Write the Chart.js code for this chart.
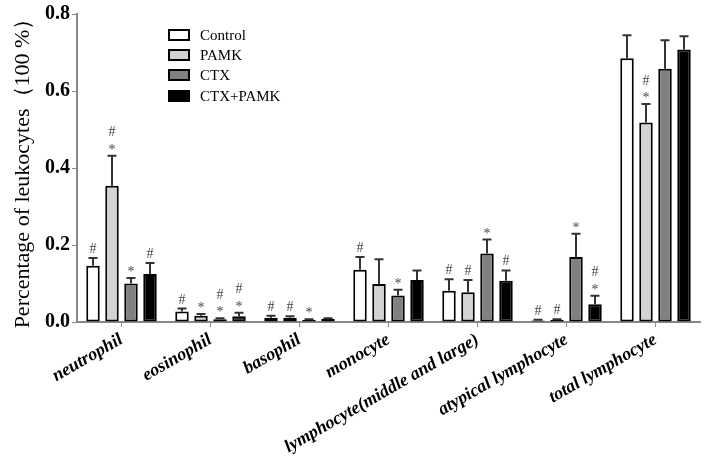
<!DOCTYPE html>
<html>
<head>
<meta charset="utf-8">
<script src="https://cdn.jsdelivr.net/npm/chart.js@4"></script>
<style>
  html, body { margin: 0; padding: 0; background: #fff; }
  #wrap { width: 707px; height: 461px; }
</style>
</head>
<body>
<div id="wrap"><canvas id="myChart" width="707" height="461"></canvas></div>
<script>
// categories and series
const categories = ['neutrophil', 'eosinophil', 'basophil', 'monocyte',
    'lymphocyte(middle and large)', 'atypical lymphocyte', 'total lymphocyte'];
const groups = ['Control', 'PAMK', 'CTX', 'CTX+PAMK'];

const control  = [0.146, 0.027, 0.011, 0.136, 0.081, 0.004, 0.685];
const pamk     = [0.354, 0.016, 0.011, 0.099, 0.077, 0.005, 0.518];
const ctx      = [0.100, 0.007, 0.005, 0.069, 0.178, 0.169, 0.658];
const ctxPamk  = [0.125, 0.015, 0.008, 0.109, 0.107, 0.046, 0.708];

// upper error (SD) for each bar
const controlErr = [0.020, 0.008, 0.005, 0.033, 0.030, 0.002, 0.060];
const pamkErr    = [0.078, 0.005, 0.004, 0.064, 0.032, 0.002, 0.048];
const ctxErr     = [0.014, 0.003, 0.002, 0.015, 0.036, 0.060, 0.074];
const ctxPamkErr = [0.028, 0.009, 0.002, 0.025, 0.027, 0.022, 0.034];

// significance marks, top to bottom
const controlMarks = ['#', '#', '#', '#', '#', '#', ''];
const pamkMarks    = ['#*', '*', '#', '', '#', '#', '#*'];
const ctxMarks     = ['*', '#*', '*', '*', '*', '*', ''];
const ctxPamkMarks = ['#', '#*', '', '', '#', '#*', ''];

const yTicks = [0, 0.2, 0.4, 0.6, 0.8];

const fills = ['#ffffff', '#d3d3d3', '#808080', '#000000'];
const values = [control, pamk, ctx, ctxPamk];
const errors = [controlErr, pamkErr, ctxErr, ctxPamkErr];
const marks = [controlMarks, pamkMarks, ctxMarks, ctxPamkMarks];

Chart.defaults.font.family = "'Liberation Serif', 'Times New Roman', serif";
Chart.defaults.color = '#000';

// error bars + # / * marks
const errorBarPlugin = {
    id: 'errorBars',
    afterDatasetsDraw(chart) {
        const c = chart.ctx;
        const y = chart.scales.y;
        chart.data.datasets.forEach(function(ds, i) {
            const meta = chart.getDatasetMeta(i);
            meta.data.forEach(function(bar, j) {
                const v = ds.data[j];
                const top = y.getPixelForValue(v + errors[i][j]);
                const base = y.getPixelForValue(v);
                c.save();
                c.strokeStyle = '#333';
                c.lineWidth = 2;
                c.beginPath();
                c.moveTo(bar.x, base);
                c.lineTo(bar.x, top);
                c.moveTo(bar.x - 4.5, top);
                c.lineTo(bar.x + 4.5, top);
                c.stroke();

                // marks
                const m = marks[i][j];
                c.fillStyle = '#444';
                c.font = "14px 'Liberation Serif'";
                c.textAlign = 'center';
                c.textBaseline = 'alphabetic';
                let cy = top - 10;
                for (let k = m.length - 1; k >= 0; k--) {
                    const ch = m[k];
                    const off = ch === '*' ? 8 : 5;
                    c.fillText(ch, bar.x, cy + off);
                    cy -= 14.5;
                }
                c.restore();
            });
        });
    }
};

// legend inside plot area
const legendPlugin = {
    id: 'innerLegend',
    afterDraw(chart) {
        const c = chart.ctx;
        const area = chart.chartArea;
        const x0 = area.left + 92;
        const rows = [35, 55, 75, 96];
        c.save();
        chart.data.datasets.forEach(function(ds, i) {
            const cy = rows[i];
            c.fillStyle = ds.backgroundColor;
            c.fillRect(x0, cy - 5, 20, 10);
            c.strokeStyle = '#000';
            c.lineWidth = 2;
            c.strokeRect(x0, cy - 5, 20, 10);
            c.fillStyle = '#000';
            c.font = "15px 'Liberation Serif'";
            c.textAlign = 'left';
            c.textBaseline = 'middle';
            c.fillText(ds.label, x0 + 31, cy + 1);
        });
        c.restore();
    }
};

const myChart = new Chart(document.getElementById('myChart').getContext('2d'), {
    type: 'bar',
    data: {
        labels: categories,
        datasets: groups.map(function(g, i) {
            return {
                label: g,
                data: values[i],
                backgroundColor: fills[i],
                borderColor: '#000',
                borderWidth: 2,
                borderSkipped: false,
                categoryPercentage: 0.854,
                barPercentage: 0.71
            };
        })
    },
    options: {
        responsive: false,
        animation: false,
        layout: { padding: { top: 13, right: 7, left: 0, bottom: 0 } },
        plugins: {
            legend: { display: false },
            tooltip: { enabled: false }
        },
        scales: {
            x: {
                grid: { drawOnChartArea: false, drawTicks: true, tickLength: 5, color: '#888', offset: false },
                border: { color: '#888', width: 2 },
                ticks: {
                    minRotation: 30,
                    maxRotation: 30,
                    padding: 2,
                    color: '#000',
                    font: { size: 18, weight: 'bold', style: 'italic' }
                },
                afterFit(scale) { scale.height = 139; }
            },
            y: {
                min: 0,
                max: 0.8,
                grid: { drawOnChartArea: false, drawTicks: true, tickLength: 5, color: '#888' },
                border: { color: '#888', width: 2 },
                afterBuildTicks(scale) { scale.ticks = yTicks.map(v => ({ value: v })); },
                ticks: {
                    padding: 2,
                    color: '#000',
                    font: { size: 20, weight: 'bold' },
                    callback: v => v.toFixed(1)
                },
                title: {
                    display: true,
                    text: 'Percentage of leukocytes（100 %）',
                    color: '#000',
                    font: { size: 22 },
                    padding: { top: 10, bottom: 0 }
                },
                afterFit(scale) { scale.width = 77; }
            }
        }
    },
    plugins: [errorBarPlugin, legendPlugin]
});
</script>
</body>
</html>
